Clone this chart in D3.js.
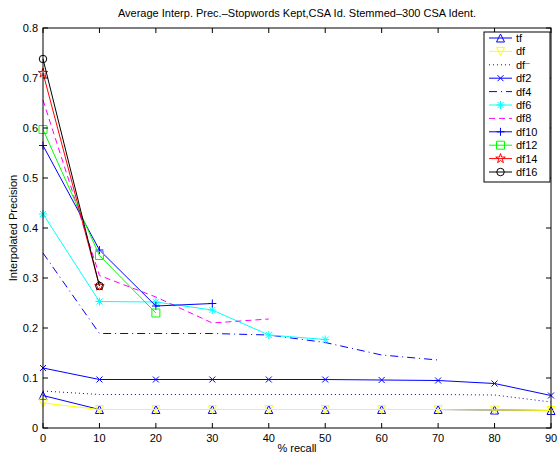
<!DOCTYPE html>
<html>
<head>
<meta charset="utf-8">
<script src="https://cdn.jsdelivr.net/npm/d3@7"></script>
<style>
  body { margin: 0; background: #fff; }
  text { font-family: "Liberation Sans", Arial, sans-serif; }
</style>
</head>
<body>
<svg width="559" height="458"></svg>
<script>
var width = 559;
var height = 458;
var margin = {top: 28, right: 8, bottom: 30, left: 43};

// recall levels (x) and tick labels
var recall = [0, 10, 20, 30, 40, 50, 60, 70, 80, 90];
var xTicks = [0, 10, 20, 30, 40, 50, 60, 70, 80, 90];
var yTicks = [0, 0.1, 0.2, 0.3, 0.4, 0.5, 0.6, 0.7, 0.8];

// series values
var tf   = [0.065, 0.037, 0.037, 0.037, 0.037, 0.037, 0.037, 0.037, 0.036, 0.035];
var df   = [0.050, 0.037, 0.037, 0.037, 0.037, 0.037, 0.037, 0.037, 0.036, 0.035];
var dfm  = [0.074, 0.067, 0.067, 0.067, 0.067, 0.067, 0.067, 0.067, 0.066, 0.052];
var df2  = [0.120, 0.097, 0.097, 0.097, 0.097, 0.097, 0.096, 0.095, 0.089, 0.065];
var df4  = [0.350, 0.189, 0.189, 0.189, 0.186, 0.171, 0.146, 0.136];
var df6  = [0.428, 0.253, 0.252, 0.236, 0.186, 0.177];
var df8  = [0.656, 0.305, 0.262, 0.210, 0.218];
var df10 = [0.565, 0.356, 0.244, 0.249];
var df12 = [0.597, 0.345, 0.230];
var df14 = [0.710, 0.284];
var df16 = [0.738, 0.284];

var seriesNames = ['tf', 'df', 'df-', 'df2', 'df4', 'df6', 'df8', 'df10', 'df12', 'df14', 'df16'];
var seriesValues = [tf, df, dfm, df2, df4, df6, df8, df10, df12, df14, df16];
var seriesColors = ['#0000ff', '#ffff00', '#0000ff', '#0000ff', '#0000ff', '#00ffff', '#ff00ff', '#0000ff', '#00ff00', '#ff0000', '#000000'];
var seriesDash = [null, null, '1,3', null, '8,4,1,4', null, '6,4', null, null, null, null];
var seriesMarker = ['triUp', 'triDown', null, 'x', null, 'star6', null, 'plus', 'square', 'pentagram', 'circle'];

var svg = d3.select('svg');

var x = d3.scaleLinear()
          .domain([0, 90])
          .range([margin.left, width - margin.right]);
var y = d3.scaleLinear()
          .domain([0, 0.8])
          .range([height - margin.bottom, margin.top]);

// marker shapes, centered at 0,0
function markerPath(type) {
    var r = 4;
    switch (type) {
        case 'triUp': return 'M0,' + (-r) + 'L' + r + ',' + r + 'L' + (-r) + ',' + r + 'Z';
        case 'triDown': return 'M0,' + r + 'L' + r + ',' + (-r) + 'L' + (-r) + ',' + (-r) + 'Z';
        case 'x': return 'M-3,-3L3,3M-3,3L3,-3';
        case 'plus': return 'M-4,0L4,0M0,-4L0,4';
        case 'star6': return 'M-4,0L4,0M0,-4L0,4M-3,-3L3,3M-3,3L3,-3';
        case 'square': return 'M-4,-4L4,-4L4,4L-4,4Z';
        case 'circle': return d3.symbol().type(d3.symbolCircle).size(44)();
        case 'pentagram': return d3.symbol().type(d3.symbolStar).size(28)();
    }
    return null;
}

var plot = svg.append('g').classed('plot', true);

var line = d3.line()
            .x((d, i) => x(recall[i]))
            .y(d => y(d));

seriesValues.forEach((vals, k) => {
    var g = plot.append('g').classed('series', true);
    g.append('path')
        .attr('d', line(vals))
        .attr('fill', 'none')
        .attr('stroke', seriesColors[k])
        .attr('stroke-width', 1)
        .attr('stroke-dasharray', seriesDash[k]);
    if (seriesMarker[k]) {
        g.selectAll('.mk')
            .data(vals)
            .enter()
            .append('path')
                .classed('mk', true)
                .attr('transform', (d, i) => `translate(${x(recall[i])},${y(d)})`)
                .attr('d', markerPath(seriesMarker[k]))
                .attr('fill', 'none')
                .attr('stroke', seriesColors[k])
                .attr('stroke-width', 1);
    }
});

// frame and ticks
var x0 = x(0), x1 = x(90), y0 = y(0), y1 = y(0.8);
svg.append('rect')
    .attr('x', x0).attr('y', y1)
    .attr('width', x1 - x0).attr('height', y0 - y1)
    .attr('fill', 'none')
    .attr('stroke', '#000')
    .attr('stroke-width', 1);

var tickLen = 5;
xTicks.forEach(t => {
    svg.append('line').attr('x1', x(t)).attr('x2', x(t)).attr('y1', y0).attr('y2', y0 - tickLen).attr('stroke', '#000');
    svg.append('line').attr('x1', x(t)).attr('x2', x(t)).attr('y1', y1).attr('y2', y1 + tickLen).attr('stroke', '#000');
    svg.append('text')
        .attr('x', x(t))
        .attr('y', y0 + 14)
        .style('text-anchor', 'middle')
        .style('font-size', '11px')
        .text(t);
});
yTicks.forEach(t => {
    svg.append('line').attr('x1', x0).attr('x2', x0 + tickLen).attr('y1', y(t)).attr('y2', y(t)).attr('stroke', '#000');
    svg.append('line').attr('x1', x1).attr('x2', x1 - tickLen).attr('y1', y(t)).attr('y2', y(t)).attr('stroke', '#000');
    svg.append('text')
        .attr('x', x0 - 5)
        .attr('y', y(t) + 4)
        .style('text-anchor', 'end')
        .style('font-size', '11px')
        .text(t === 0 ? '0' : d3.format('.1f')(t));
});

// title and axis labels
svg.append('text')
    .attr('x', (x0 + x1) / 2)
    .attr('y', 17)
    .style('text-anchor', 'middle')
    .style('font-size', '11px')
    .text('Average Interp. Prec.\u2013Stopwords Kept,CSA Id. Stemmed\u2013300 CSA Ident.');

svg.append('text')
    .attr('x', (x0 + x1) / 2)
    .attr('y', 452)
    .style('text-anchor', 'middle')
    .style('font-size', '11px')
    .text('% recall');

svg.append('text')
    .attr('transform', `translate(17, ${(y0 + y1) / 2}) rotate(-90)`)
    .style('text-anchor', 'middle')
    .style('font-size', '11px')
    .text('Interpolated Precision');

// legend
var legend = svg.append('g').attr('transform', 'translate(484, 32)');
legend.append('rect')
    .attr('width', 66)
    .attr('height', 150)
    .attr('fill', '#fff')
    .attr('stroke', '#000');

seriesNames.forEach((name, k) => {
    var ly = 6 + k * 13.4;
    var item = legend.append('g').attr('transform', `translate(0, ${ly})`);
    item.append('line')
        .attr('x1', 5).attr('x2', 28)
        .attr('y1', 0).attr('y2', 0)
        .attr('stroke', seriesColors[k])
        .attr('stroke-dasharray', seriesDash[k]);
    if (seriesMarker[k]) {
        item.append('path')
            .attr('transform', 'translate(16.5,0)')
            .attr('d', markerPath(seriesMarker[k]))
            .attr('fill', 'none')
            .attr('stroke', seriesColors[k]);
    }
    var label = item.append('text')
        .attr('x', 32)
        .attr('y', 4)
        .style('font-size', '11px');
    if (name === 'df-') {
        label.text('df');
        label.append('tspan')
            .attr('dy', -4)
            .style('font-size', '8px')
            .text('\u2013');
    } else {
        label.text(name);
    }
});
</script>
</body>
</html>
